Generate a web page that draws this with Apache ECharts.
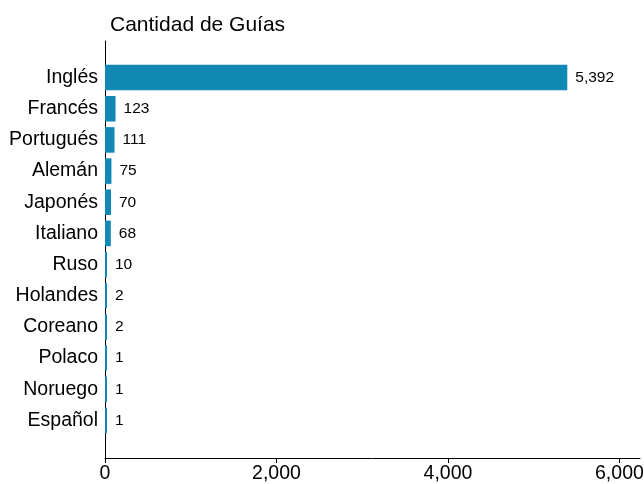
<!DOCTYPE html>
<html>
<head>
<meta charset="utf-8">
<script src="https://cdn.jsdelivr.net/npm/echarts@6/dist/echarts.min.js"></script>
<style>
  html, body { margin: 0; padding: 0; background: #fff; }
  #chart { width: 644px; height: 484px; }
</style>
</head>
<body>
<div id="chart"></div>
<script>
// datos
var idiomas = ['Inglés', 'Francés', 'Portugués', 'Alemán', 'Japonés', 'Italiano',
    'Ruso', 'Holandes', 'Coreano', 'Polaco', 'Noruego', 'Español'];
var guias = [5392, 123, 111, 75, 70, 68, 10, 2, 2, 1, 1, 1];
var ticksX = [0, 2000, 4000, 6000];

var fuente = 'Liberation Sans, Arial, sans-serif';
var myChart = echarts.init(document.getElementById('chart'));

var option = {
    animation: false,
    title: {
        text: 'Cantidad de Guías',
        left: 105,
        top: 10,
        textStyle: {fontFamily: fuente, fontSize: 21, fontWeight: 'normal', color: '#000'}
    },
    grid: [
        {left: 105, right: 4, top: 62, bottom: 48, outerBoundsMode: 'none'},
        // solo para la linea del eje y, que es mas larga
        {left: 105, right: 4, top: 41, bottom: 26, outerBoundsMode: 'none'}
    ],
    xAxis: [
        {
            gridIndex: 0,
            type: 'value',
            min: 0,
            max: 6240,
            offset: 22,
            splitLine: {show: false},
            axisLine: {show: true, lineStyle: {color: '#000', width: 1}},
            axisTick: {show: true, length: 5, customValues: ticksX, lineStyle: {color: '#000'}},
            axisLabel: {
                customValues: ticksX,
                margin: 6,
                fontFamily: fuente,
                fontSize: 19.5,
                color: '#000',
                formatter: function (v) { return v.toLocaleString('en-US'); }
            }
        },
        {gridIndex: 1, type: 'value', show: false}
    ],
    yAxis: [
        {
            gridIndex: 0,
            type: 'category',
            inverse: true,
            data: idiomas,
            axisLine: {show: false},
            axisTick: {show: false},
            axisLabel: {margin: 7, fontFamily: fuente, fontSize: 19.5, color: '#000'}
        },
        {
            gridIndex: 1,
            type: 'value',
            axisLine: {show: true, lineStyle: {color: '#000', width: 1}},
            axisTick: {show: false},
            axisLabel: {show: false},
            splitLine: {show: false}
        }
    ],
    series: [
        {
            type: 'bar',
            xAxisIndex: 0,
            yAxisIndex: 0,
            data: guias,
            barCategoryGap: '18%',
            barMinHeight: 2,
            itemStyle: {color: '#1189b4'},
            label: {
                show: true,
                position: 'right',
                distance: 8,
                fontFamily: fuente,
                fontSize: 15.5,
                color: '#000',
                formatter: function (p) { return p.value.toLocaleString('en-US'); }
            }
        }
    ]
};
myChart.setOption(option);
</script>
</body>
</html>
